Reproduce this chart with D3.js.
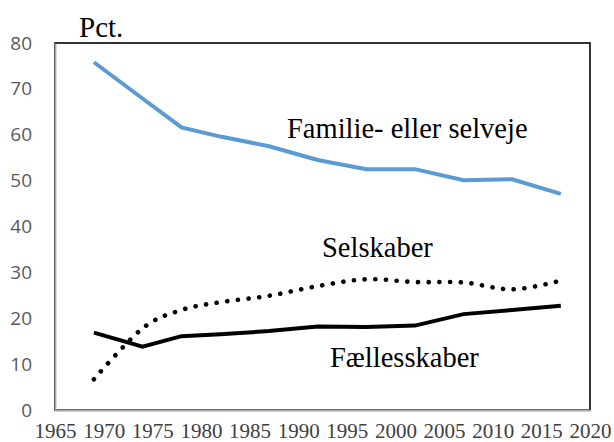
<!DOCTYPE html>
<html lang="da">
<head>
<meta charset="UTF-8">
<script src="https://cdnjs.cloudflare.com/ajax/libs/d3/7.8.5/d3.min.js"></script>
<style>
  body { margin: 0; background: #fff; }
  svg { display: block; }
</style>
</head>
<body>
<svg width="614" height="442"></svg>
<script>
// data (pct.)
var years = [1969, 1974, 1978, 1982, 1987, 1992, 1997, 2002, 2007, 2012, 2017];
var familie = [75.8, 67.9, 61.6, 59.6, 57.5, 54.5, 52.5, 52.5, 50.1, 50.3, 47.1];
var selskaber = [6.7, 17.8, 21.8, 23.5, 24.9, 27.0, 28.5, 27.9, 27.8, 26.3, 28.2];
var faelles = [16.85, 13.8, 16.1, 16.5, 17.2, 18.2, 18.1, 18.4, 20.9, 21.8, 22.7];
var xTicks = [1965, 1970, 1975, 1980, 1985, 1990, 1995, 2000, 2005, 2010, 2015, 2020];
var yTicks = [0, 10, 20, 30, 40, 50, 60, 70, 80];

var svg = d3.select("svg");
var x = d3.scaleLinear().domain([1965, 2020]).range([55, 590]);
var y = d3.scaleLinear().domain([0, 80]).range([410, 43]);

// plot frame (top/right black)
svg.append("rect")
    .attr("x", x(1965)).attr("y", y(80))
    .attr("width", x(2020) - x(1965)).attr("height", y(0) - y(80))
    .attr("fill", "none").attr("stroke", "#000").attr("stroke-width", 1.6);

// y axis
var yAxis = d3.axisLeft(y).tickValues(yTicks).tickSize(0).tickPadding(23);
var gy = svg.append("g").attr("transform", "translate(" + x(1965) + ",0)").call(yAxis);
gy.select(".domain").attr("stroke", "#a6a6a6").attr("stroke-width", 1.8);
gy.selectAll("text")
    .attr("fill", "#595959")
    .style("font-family", "'Open Sans', sans-serif")
    .style("font-size", "19px");

// x axis
var xAxis = d3.axisBottom(x).tickValues(xTicks).tickSize(0).tickFormat(d3.format("d"));
var gx = svg.append("g").attr("transform", "translate(0," + y(0) + ")").call(xAxis);
gx.select(".domain").attr("stroke", "#a6a6a6").attr("stroke-width", 1.8);
gx.selectAll("text")
    .attr("y", 27.5)
    .attr("dy", null)
    .attr("fill", "#404040")
    .style("font-family", "'Liberation Serif', 'Times New Roman', serif")
    .style("font-size", "21px");

// lines
var line = d3.line().x(function (d, i) { return x(years[i]); }).y(function (d) { return y(d); });
var smooth = d3.line().curve(d3.curveCardinal.tension(0))
    .x(function (d, i) { return x(years[i]); }).y(function (d) { return y(d); });

svg.append("path").datum(familie)
    .attr("d", line)
    .attr("fill", "none").attr("stroke", "#5b9bd5").attr("stroke-width", 4);

svg.append("path").datum(selskaber)
    .attr("d", smooth)
    .attr("fill", "none").attr("stroke", "#000").attr("stroke-width", 4.6)
    .attr("stroke-linecap", "round").attr("stroke-dasharray", "0.1 10.6");

svg.append("path").datum(faelles)
    .attr("d", line)
    .attr("fill", "none").attr("stroke", "#000").attr("stroke-width", 4);

// text labels
var serif = "'Liberation Serif', 'Times New Roman', serif";
svg.append("text").attr("x", 79).attr("y", 37).text("Pct.")
    .style("font-family", serif).style("font-size", "29px");
svg.append("text").attr("x", 287).attr("y", 138).text("Familie- eller selveje")
    .style("font-family", serif).style("font-size", "28.5px");
svg.append("text").attr("x", 322).attr("y", 257).text("Selskaber")
    .style("font-family", serif).style("font-size", "28.5px");
svg.append("text").attr("x", 330).attr("y", 367).text("Fællesskaber")
    .style("font-family", serif).style("font-size", "28.5px");
</script>
</body>
</html>
